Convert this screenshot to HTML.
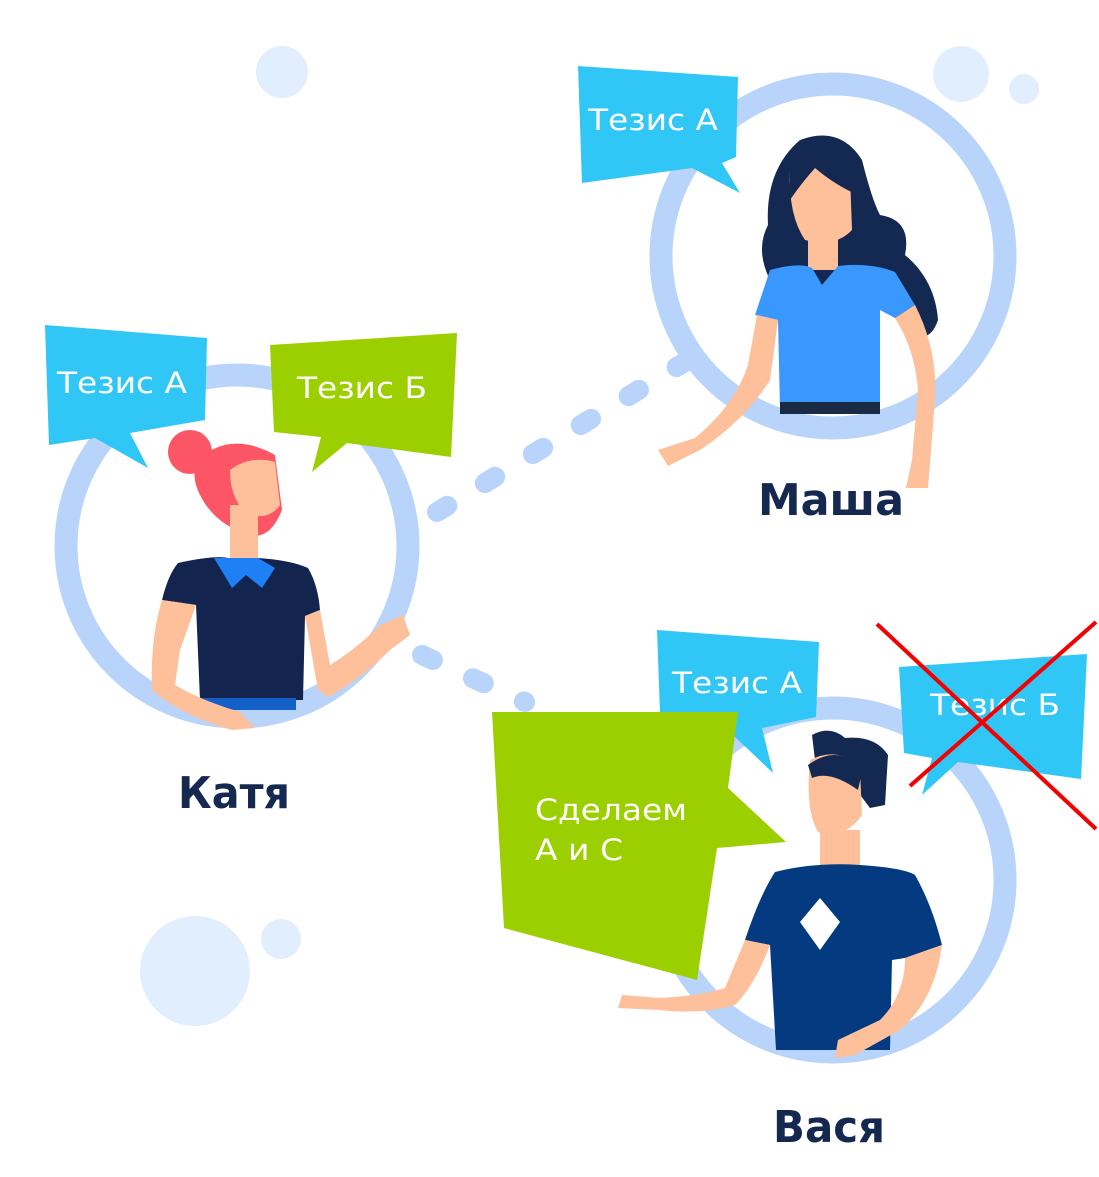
<!DOCTYPE html>
<html><head><meta charset="utf-8"><style>
html,body{margin:0;padding:0;background:#fff;}
svg{display:block;}
text{font-family:"DejaVu Sans","Liberation Sans",sans-serif;}
</style></head><body>
<svg width="1099" height="1177" viewBox="0 0 1099 1177" xmlns="http://www.w3.org/2000/svg">
<g fill="#e1eefd">
<circle cx="282" cy="72" r="26"/><circle cx="961" cy="74" r="28"/><circle cx="1024" cy="89" r="15"/>
<circle cx="195" cy="971" r="55"/><circle cx="281" cy="939" r="20"/>
</g>
<g fill="none" stroke="#b8d4fb" stroke-width="23">
<circle cx="833" cy="256" r="172"/>
<circle cx="237" cy="546" r="171"/>
<circle cx="833" cy="880" r="172"/>
</g>
<g stroke="#b8d4fb" stroke-width="20" stroke-linecap="round" stroke-dasharray="12 44" fill="none">
<line x1="437" y1="512" x2="685" y2="362"/>
<line x1="422" y1="655" x2="525" y2="702"/>
</g>

<!-- Masha -->
<g>
<path d="M800 140 Q840 125 862 160 Q872 200 880 215 Q912 220 905 255 Q935 280 938 320 Q930 345 905 335 L880 290 L770 280 Q755 250 768 225 Q765 170 800 140Z" fill="#132951"/>
<path d="M790 170 Q820 150 850 175 L852 230 Q835 248 805 240 Q788 215 790 170Z" fill="#fdc09b"/>
<path d="M790 170 Q815 140 858 168 L858 195 Q835 185 815 168 Q800 185 790 200Z" fill="#132951"/>
<rect x="808" y="230" width="30" height="40" fill="#fdc09b"/>
<path d="M770 270 Q800 262 812 268 L822 285 L838 266 Q870 262 895 272 L915 305 L895 318 L880 310 L880 408 L780 408 L778 320 L755 315 Z" fill="#3a98fd"/>
<rect x="780" y="402" width="100" height="12" fill="#1b2b45"/>
<path d="M757 315 L778 320 L770 380 Q745 420 700 450 L668 466 L658 450 L695 438 Q735 405 748 365Z" fill="#fdc09b"/>
<path d="M895 318 L915 305 Q938 350 935 400 L928 488 L906 488 L912 460 L918 390 Q915 350 895 318Z" fill="#fdc09b"/>
</g>

<!-- Katya -->
<g>
<circle cx="190" cy="452" r="22" fill="#fc5565"/>
<path d="M198 460 Q230 430 275 455 L282 510 Q270 540 250 535 Q215 525 200 495 Q190 475 198 460Z" fill="#fc5565"/>
<path d="M230 470 Q250 455 275 462 L280 505 Q270 520 248 515 Q230 500 230 470Z" fill="#fdc09b"/>
<rect x="230" y="505" width="28" height="55" fill="#fdc09b"/>
<path d="M178 563 Q215 555 228 558 L258 558 Q290 560 308 568 Q318 585 320 610 L305 616 L303 700 L200 700 L196 605 L162 600 Q168 575 178 563Z" fill="#13254e"/>
<path d="M214 558 L258 558 L275 568 L262 588 L246 575 L232 588 Z" fill="#1f7ff5"/>
<rect x="198" y="698" width="98" height="12" fill="#1360c8"/>
<path d="M162 600 L196 605 L180 650 L175 685 Q200 700 240 712 L255 728 L232 730 Q180 715 152 690 Q150 640 162 600Z" fill="#fdc09b"/>
<path d="M305 616 L320 610 L330 665 Q355 650 380 625 L403 615 L410 635 L390 650 Q360 680 328 697 L318 690 Z" fill="#fdc09b"/>
</g>

<!-- Vasya -->
<g>
<path d="M812 735 Q830 725 845 738 Q875 735 888 755 L885 805 L870 808 L830 755 L815 760Z" fill="#132951"/>
<path d="M810 760 Q840 745 860 770 L862 815 Q845 840 818 832 Q805 810 810 760Z" fill="#fdc09b"/>
<path d="M808 765 Q840 742 862 772 L858 790 Q830 770 812 778Z" fill="#132951"/>
<rect x="820" y="830" width="40" height="40" fill="#fdc09b"/>
<path d="M775 872 Q815 862 860 865 Q905 868 915 875 Q932 905 942 945 L905 958 L892 960 L890 1050 L776 1050 L770 945 L745 940 Q760 895 775 872Z" fill="#043b80"/>
<path d="M820 898 L840 922 L820 950 L800 922Z" fill="#fff"/>
<path d="M745 940 L770 945 Q755 985 735 1005 Q700 1015 660 1010 L618 1008 L622 995 L660 998 Q700 996 725 988 Z" fill="#fdc09b"/>
<path d="M905 958 L942 945 Q935 1000 900 1030 L855 1055 L835 1058 L838 1040 L880 1020 Q905 995 905 958Z" fill="#fdc09b"/>
</g>

<polygon points="578,66 738,77 736,157 722,163 740,193 692,168 582,183" fill="#30c6f6"/>
<text x="588" y="130" fill="#fff" font-size="29" textLength="130" lengthAdjust="spacingAndGlyphs">Тезис А</text>

<polygon points="45,325 207,338 205,420 130,433 148,468 95,438 49,445" fill="#30c6f6"/>
<text x="57" y="393" fill="#fff" font-size="29" textLength="130" lengthAdjust="spacingAndGlyphs">Тезис А</text>

<polygon points="270,345 457,333 451,457 347,443 312,472 321,437 274,432" fill="#9ccf00"/>
<text x="297" y="398" fill="#fff" font-size="29" textLength="130" lengthAdjust="spacingAndGlyphs">Тезис Б</text>

<polygon points="657,630 819,642 816,717 762,728 773,773 733,735 661,740" fill="#30c6f6"/>
<text x="672" y="693" fill="#fff" font-size="29" textLength="130" lengthAdjust="spacingAndGlyphs">Тезис А</text>

<polygon points="899,667 1087,654 1081,779 958,762 922,795 932,758 904,753" fill="#30c6f6"/>
<text x="930" y="715" fill="#fff" font-size="29" textLength="130" lengthAdjust="spacingAndGlyphs">Тезис Б</text>

<g stroke="#f50000" stroke-width="4">
<line x1="877" y1="624" x2="1096" y2="829"/>
<line x1="1096" y1="622" x2="910" y2="786"/>
</g>

<polygon points="492,712 738,712 728,788 786,842 717,848 697,980 504,928" fill="#9ccf00"/>
<text x="535" y="820" fill="#fff" font-size="29" textLength="152" lengthAdjust="spacingAndGlyphs">Сделаем</text>
<text x="535" y="860" fill="#fff" font-size="29" textLength="88" lengthAdjust="spacingAndGlyphs">А и С</text>

<g fill="#142850" font-size="44" font-weight="bold">
<text x="758" y="515" textLength="146" lengthAdjust="spacingAndGlyphs">Маша</text>
<text x="178" y="808" textLength="112" lengthAdjust="spacingAndGlyphs">Катя</text>
<text x="773" y="1142" textLength="112" lengthAdjust="spacingAndGlyphs">Вася</text>
</g>
</svg>
</body></html>
